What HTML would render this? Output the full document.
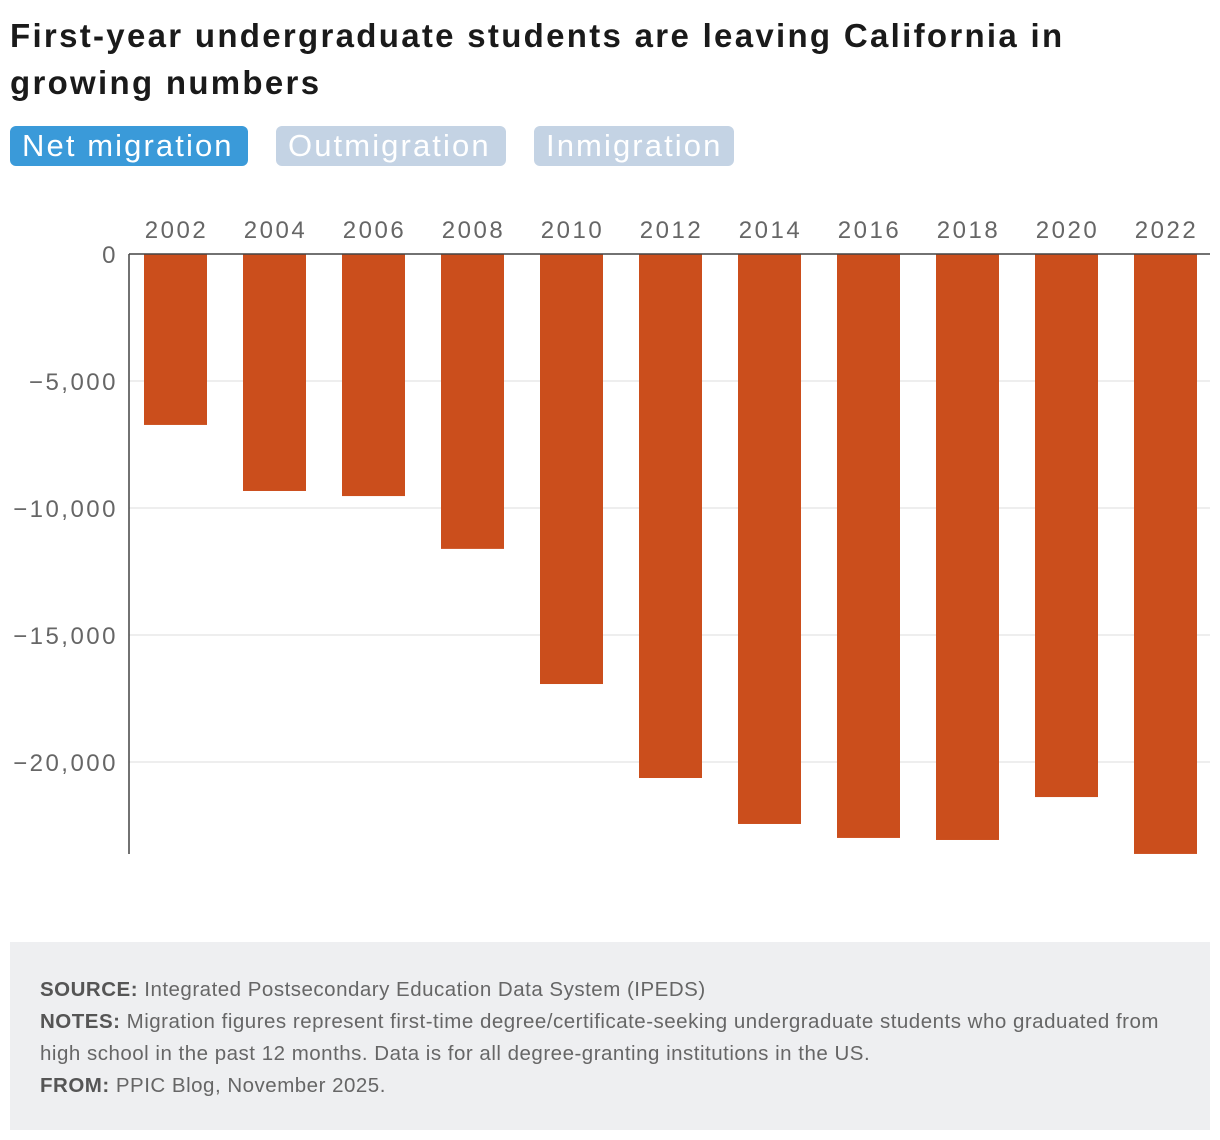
<!DOCTYPE html>
<html><head><meta charset="utf-8"><style>
body{margin:0;width:1220px;height:1140px;background:#fff;font-family:"Liberation Sans",sans-serif;position:relative;overflow:hidden}
.title{position:absolute;left:10px;top:12px;font-size:33px;font-weight:bold;color:#1a1a1a;line-height:47px;width:1080px;letter-spacing:2.3px}
.btn{position:absolute;top:126px;height:40px;border-radius:6px;font-size:31px;line-height:40px;color:#fff;padding:0 12px;box-sizing:border-box;letter-spacing:2.1px;white-space:nowrap}
.foot{position:absolute;left:10px;top:942px;width:1200px;height:188px;background:#eeeff1;color:#666;font-size:20.5px;letter-spacing:0.5px;line-height:32px;padding:32px 30px;box-sizing:border-box}
.foot b{color:#555}
</style></head><body>
<div class="title">First-year undergraduate students are leaving California in growing numbers</div>
<div class="btn" style="left:10px;width:238px;background:#3a9ad9">Net migration</div>
<div class="btn" style="left:276px;width:230px;background:#c4d3e4">Outmigration</div>
<div class="btn" style="left:534px;width:200px;background:#c4d3e4">Inmigration</div>
<svg id="chart" width="1220" height="900" style="position:absolute;left:0;top:0"></svg>
<div class="foot"><b>SOURCE:</b> Integrated Postsecondary Education Data System (IPEDS)<br><b>NOTES:</b> Migration figures represent first-time degree/certificate-seeking undergraduate students who graduated from high school in the past 12 months. Data is for all degree-granting institutions in the US.<br><b>FROM:</b> PPIC Blog, November 2025.</div>
<script>
const years=["2002","2004","2006","2008","2010","2012","2014","2016","2018","2020","2022"];
const netMigration=[-6730,-9330,-9530,-11610,-16930,-20630,-22440,-22990,-23070,-21380,-23620];
const yTicks=[0,-5000,-10000,-15000,-20000];
const yTickLabels=["0","−5,000","−10,000","−15,000","−20,000"];
const NS="http://www.w3.org/2000/svg";
const svg=document.getElementById('chart');
const x0=126,band=99,barW=63,left=129,right=1210;
const y=v=>254-v*0.0254;
const xc=i=>x0+band*i+band/2;
function mk(t,a){const e=document.createElementNS(NS,t);for(const k in a)e.setAttribute(k,a[k]);svg.appendChild(e);return e;}
yTicks.forEach((t,i)=>{
 if(t!==0){const g=mk('line',{x1:left,x2:right,y1:y(t),y2:y(t),stroke:'#dddddd','stroke-width':1});
 
 }
 const l=mk('text',{x:118,y:y(t)+9,'text-anchor':'end','font-size':24,'letter-spacing':2.5,fill:'#666','font-family':'Liberation Sans, sans-serif'});
 l.textContent=yTickLabels[i];
 
 
});
netMigration.forEach((v,i)=>{
 const r=mk('rect',{x:xc(i)-barW/2,y:y(0),width:barW,height:y(v)-y(0),fill:'#cb4e1c'});
 
 
 const t=mk('text',{x:xc(i)+1,y:238,'text-anchor':'middle','font-size':24,'letter-spacing':2.5,fill:'#666','font-family':'Liberation Sans, sans-serif'});
 t.textContent=years[i];
 
 
});
const z=mk('line',{x1:left,x2:right,y1:y(0),y2:y(0),stroke:'#444','stroke-width':1.5});


const ax=mk('line',{x1:left,x2:left,y1:y(0),y2:854,stroke:'#444','stroke-width':1.5});


</script>
</body></html>
